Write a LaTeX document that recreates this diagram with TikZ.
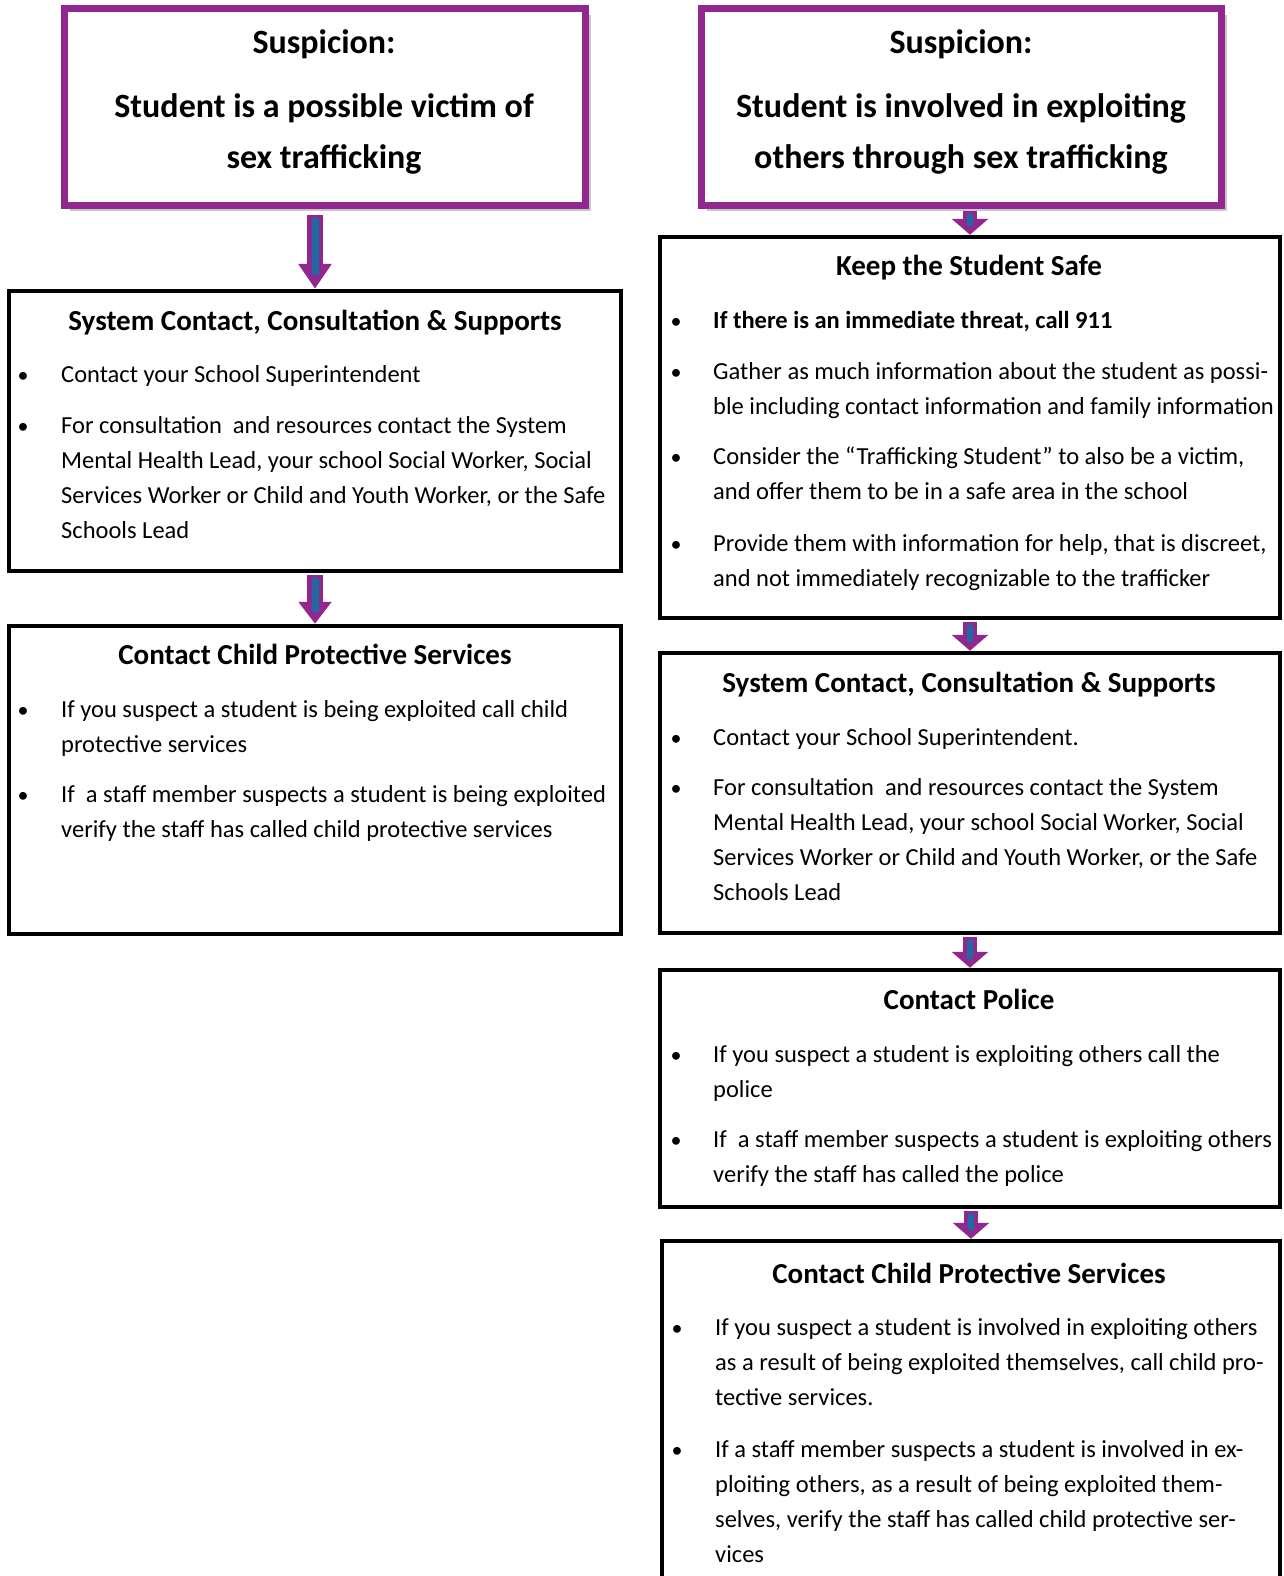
\documentclass[tikz,border=0pt]{standalone}
\usepackage{fontspec}
\setmainfont{Carlito}
\usetikzlibrary{arrows.meta,fit,calc}
\definecolor{pur}{RGB}{146,39,143}
\definecolor{blu}{RGB}{31,107,160}
\newcommand\barrow[6]{%
  \draw[pur,line width=#3pt,-{Triangle[width=#5pt,length=#6pt]}] #1 -- #2;
  \draw[blu,line width=#4pt] ($#1+(0,3)$) -- ($#2+(0,-#6*0.55)$);}
\begin{document}
\begin{tikzpicture}[x=1pt,y=-1pt,
  pbox/.style={draw=pur,line width=7pt,fill=white,inner sep=0pt},
  shad/.style={fill=black!22},
  bbox/.style={draw=black,line width=4.5pt,inner sep=0pt},
  title/.style={font=\fontsize{34}{50.4}\selectfont\bfseries,align=center,anchor=base,inner sep=0pt},
  head/.style={font=\fontsize{29}{32}\selectfont\bfseries,anchor=base,inner sep=0pt},
  txt/.style={font=\fontsize{24.5}{35}\selectfont,align=left,anchor=base west,inner sep=0pt},
  bul/.style={font=\fontsize{22}{35}\selectfont,anchor=base,inner sep=0pt},
]
\useasboundingbox (0,0) rectangle (1283,1576);
\fill[white] (0,0) rectangle (1283,1576);

% shadows of the two top boxes
\fill[shad] (70,15) rectangle (591,211);
\fill[shad] (707,15) rectangle (1227,211);

% boxes
\node[pbox,fit={(64,9) (585,205)}] (LP) {};
\node[pbox,fit={(701,9) (1221,205)}] (RP) {};
\node[bbox,fit={(9,291) (621,571)}] (L1) {};
\node[bbox,fit={(9,626) (621,934)}] (L2) {};
\node[bbox,fit={(660,237) (1280,618)}] (R1) {};
\node[bbox,fit={(660,653) (1280,933)}] (R2) {};
\node[bbox,fit={(660,970) (1280,1207)}] (R3) {};
\node[bbox,fit={(662,1241) (1280,1600)}] (R4) {};

% arrows
\coordinate (a1) at ($(L1.north |- LP.south)+(0,6)$);
\coordinate (a2) at ($(L2.north |- L1.south)+(0,2)$);
\coordinate (b1) at ($(R1.north |- RP.south)+(0,2)$);
\coordinate (b2) at ($(R2.north |- R1.south)+(0,2)$);
\coordinate (b3) at ($(R3.north |- R2.south)+(0,2)$);
\coordinate (b4) at ($(R4.north |- R3.south)+(0,2)$);
\barrow{(a1)}{(L1.north)}{16}{7}{32}{25}
\barrow{(a2)}{(L2.north)}{16}{7}{32}{22}
\barrow{(b1)}{(R1.north)}{14}{6}{36}{16}
\barrow{(b2)}{(R2.north)}{14}{6}{36}{16}
\barrow{(b3)}{(R3.north)}{14}{6}{36}{16}
\barrow{(b4)}{(R4.north)}{14}{6}{36}{16}

% left top
\node[title] (lps) at (324,54) {Suspicion:};
\node[title] (lpt) at (324,168) {Student is a possible victim of\\sex trafficking};
% right top
\node[title] (rps) at (961,54) {Suspicion:};
\node[title] (rpt) at (961,168) {Student is involved in exploiting\\others through sex trafficking};

% L1
\node[head] (l1h) at (315,330) {System Contact, Consultation \& Supports};
\node[bul] (l1b1) at (23,382) {•};
\node[txt] (l1t1) at (61,382) {Contact your School Superintendent};
\node[bul] (l1b2) at (23,433) {•};
\node[txt] (l1t2) at (61,538) {For consultation\ \ and resources contact the System\\Mental Health Lead, your school Social Worker, Social\\Services Worker or Child and Youth Worker, or the Safe\\Schools Lead};

% L2
\node[head] (l2h) at (315,664.5) {Contact Child Protective Services};
\node[bul] (l2b1) at (23,717) {•};
\node[txt] (l2t1) at (61,752) {If you suspect a student is being exploited call child\\protective services};
\node[bul] (l2b2) at (23,802) {•};
\node[txt] (l2t2) at (61,837) {If\ \ a staff member suspects a student is being exploited\\verify the staff has called child protective services};

% R1
\node[head] (r1h) at (969,275.5) {Keep the Student Safe};
\node[bul] (r1b1) at (676,328) {•};
\node[txt,font=\fontsize{24.5}{35}\selectfont\bfseries] (r1t1) at (713,328) {If there is an immediate threat, call 911};
\node[bul] (r1b2) at (676,379) {•};
\node[txt] (r1t2) at (713,414) {Gather as much information about the student as possi-\\ble including contact information and family information};
\node[bul] (r1b3) at (676,464.5) {•};
\node[txt] (r1t3) at (713,499.5) {Consider the “Trafficking Student” to also be a victim,\\and offer them to be in a safe area in the school};
\node[bul] (r1b4) at (676,551) {•};
\node[txt] (r1t4) at (713,586) {Provide them with information for help, that is discreet,\\and not immediately recognizable to the trafficker};

% R2
\node[head] (r2h) at (969,692.7) {System Contact, Consultation \& Supports};
\node[bul] (r2b1) at (676,745) {•};
\node[txt] (r2t1) at (713,745) {Contact your School Superintendent.};
\node[bul] (r2b2) at (676,795) {•};
\node[txt] (r2t2) at (713,900) {For consultation\ \ and resources contact the System\\Mental Health Lead, your school Social Worker, Social\\Services Worker or Child and Youth Worker, or the Safe\\Schools Lead};

% R3
\node[head] (r3h) at (969,1009.5) {Contact Police};
\node[bul] (r3b1) at (676,1062) {•};
\node[txt] (r3t1) at (713,1097) {If you suspect a student is exploiting others call the\\police};
\node[bul] (r3b2) at (676,1147) {•};
\node[txt] (r3t2) at (713,1182) {If\ \ a staff member suspects a student is exploiting others\\verify the staff has called the police};

% R4
\node[head] (r4h) at (969,1283) {Contact Child Protective Services};
\node[bul] (r4b1) at (677,1335) {•};
\node[txt] (r4t1) at (715,1405) {If you suspect a student is involved in exploiting others\\as a result of being exploited themselves, call child pro-\\tective services.};
\node[bul] (r4b2) at (677,1457) {•};
\node[txt] (r4t2) at (715,1562) {If a staff member suspects a student is involved in ex-\\ploiting others, as a result of being exploited them-\\selves, verify the staff has called child protective ser-\\vices};
\end{tikzpicture}
\end{document}
